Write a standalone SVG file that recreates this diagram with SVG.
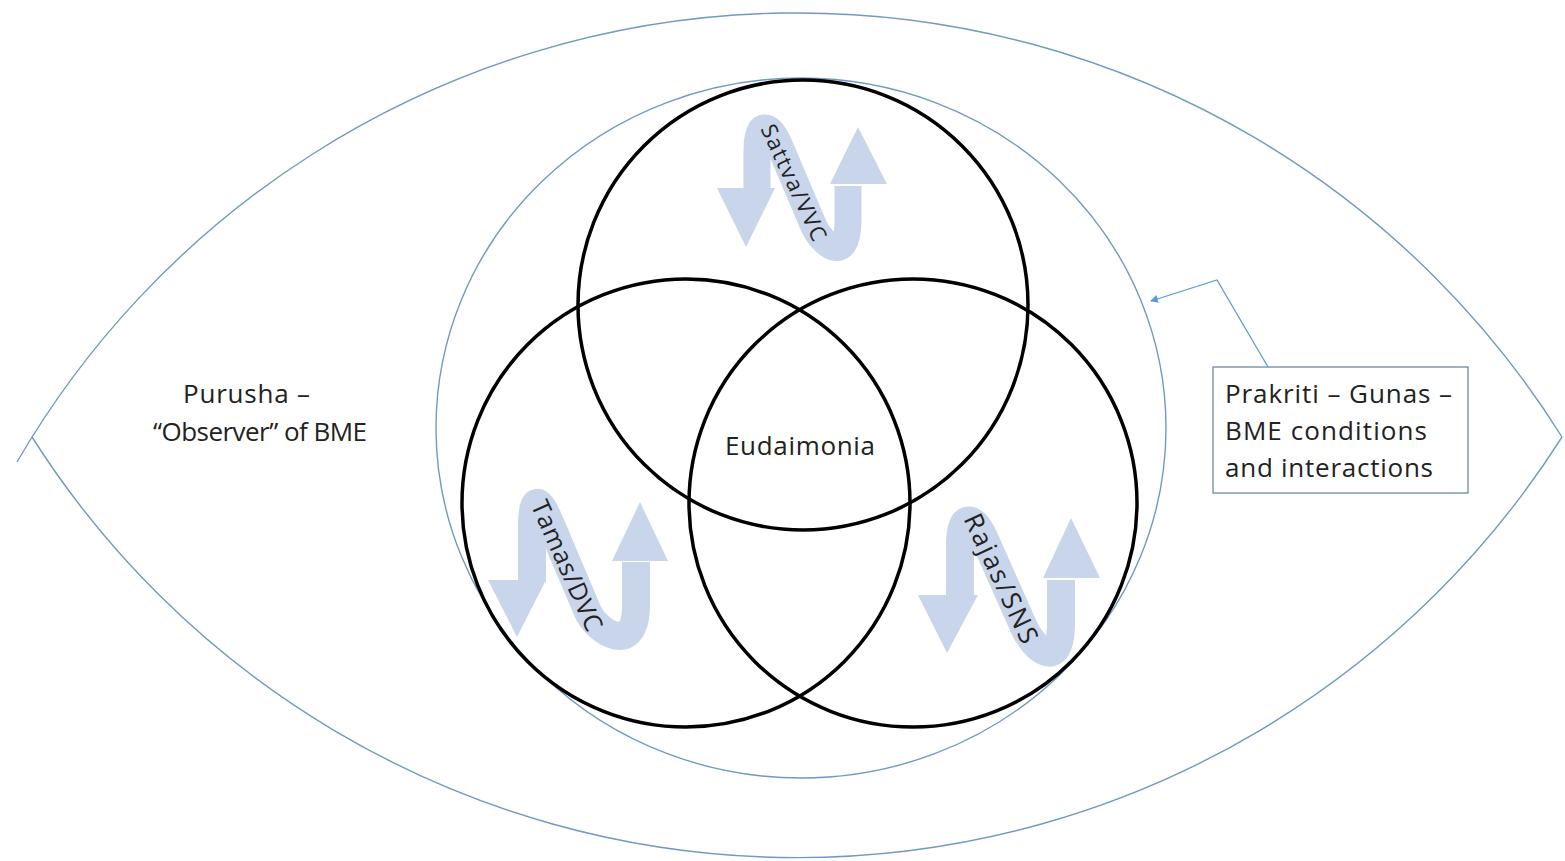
<svg xmlns="http://www.w3.org/2000/svg" width="1565" height="861" viewBox="0 0 1565 861">
<style>
.thin{fill:none;stroke:#7099c6;stroke-width:1.4}
.venn{fill:none;stroke:#000;stroke-width:3.5}
.shaft{fill:none;stroke:#c9d5ea;stroke-width:28;stroke-linejoin:round}
.head{fill:#c9d5ea}
.lbl{font-family:"Open Sans","Liberation Sans",sans-serif;fill:#222}
</style>
<defs>
<marker id="ah" markerWidth="8" markerHeight="8" refX="7" refY="4" orient="auto" markerUnits="userSpaceOnUse">
<path d="M0,0 L8,4 L0,8 Z" fill="#5b9bd5"/>
</marker>
</defs>
<rect width="1565" height="861" fill="#fff"/>
<g id="eye">
<path class="thin" d="M17,462 A902,902 0 0 1 1562,437"/>
<path class="thin" d="M32,437 A906,906 0 0 0 1562,437"/>
</g>
<g id="prakriti-circle">
<ellipse class="thin" cx="801" cy="428" rx="365" ry="350"/>
</g>
<g id="sattva-arrow">
<path class="shaft" style="stroke-width:27" d="M757,190 L757,150 C757,121 769.5,122 779.3,145 L813.3,225 C821.1,243.4 848,267.2 848,220 L848,186"/>
<polygon class="head" points="717,188 775,188 746,247"/>
<polygon class="head" points="830,184 887,184 858,127"/>
</g>
<g id="tamas-arrow">
<path class="shaft" d="M532,582 L532,528 C532,495 539.1,497 548.9,520 L588,612 C595.8,630.4 636,658.1 636,605 L636,562"/>
<polygon class="head" points="488,580 546,580 517,637"/>
<polygon class="head" points="612,561 668,561 640,502"/>
</g>
<g id="rajas-arrow">
<path class="shaft" d="M960,597 L960,545 C960,512.1 974,515.1 984.2,538 L1024.3,628 C1032.4,646.3 1061,675.2 1061,623 L1061,580"/>
<polygon class="head" points="918,595 978,595 947,653"/>
<polygon class="head" points="1043,578 1100,578 1071,518"/>
</g>
<g id="venn">
<circle class="venn" cx="803" cy="305" r="225"/>
<circle class="venn" cx="686" cy="503" r="224"/>
<circle class="venn" cx="913" cy="503" r="224"/>
</g>
<g id="labels-arrows">
<text class="lbl" x="795" y="182" font-size="22" text-anchor="middle" dominant-baseline="central" textLength="126" transform="rotate(65 795 182)">Sattva/VVC</text>
<text class="lbl" x="568" y="565" font-size="25" text-anchor="middle" dominant-baseline="central" textLength="140" transform="rotate(66 568 565)">Tamas/DVC</text>
<text class="lbl" x="1002" y="578" font-size="26" text-anchor="middle" dominant-baseline="central" textLength="140" transform="rotate(65 1002 578)">Rajas/SNS</text>
</g>
<g id="eudaimonia">
<text class="lbl" x="725" y="455" font-size="26" textLength="150">Eudaimonia</text>
</g>
<g id="purusha">
<text class="lbl" x="183" y="403" font-size="26" textLength="127">Purusha –</text>
<text class="lbl" x="153" y="441" font-size="26" textLength="214">“Observer” of BME</text>
</g>
<g id="prakriti-box">
<rect x="1213" y="367" width="255" height="126" fill="#fff" stroke="#5f7f9f" stroke-width="1.2"/>
<text class="lbl" x="1225" y="403" font-size="26" textLength="227">Prakriti – Gunas –</text>
<text class="lbl" x="1225" y="440" font-size="26" textLength="202">BME conditions</text>
<text class="lbl" x="1225" y="477" font-size="26" textLength="208">and interactions</text>
</g>
<g id="connectors">
<polyline points="1268,367 1217,280 1151,301" fill="none" stroke="#5b9bd5" stroke-width="1.3" marker-end="url(#ah)"/>
</g>
</svg>
